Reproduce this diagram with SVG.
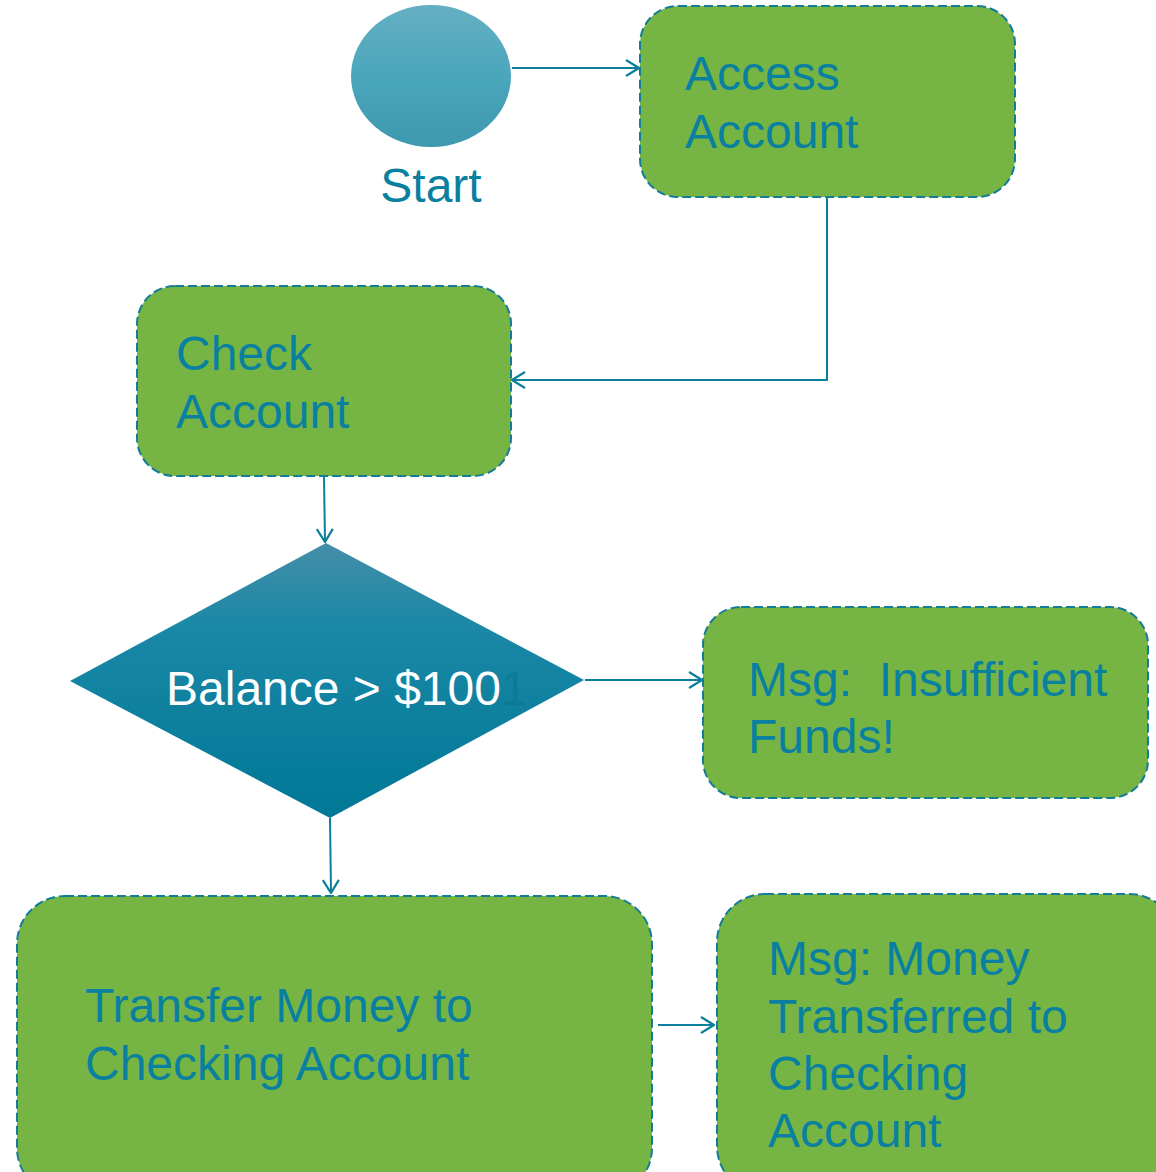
<svg xmlns="http://www.w3.org/2000/svg" width="1156" height="1172" viewBox="0 0 1156 1172">
<defs>
<linearGradient id="gStart" x1="0" y1="0" x2="0" y2="1">
<stop offset="0" stop-color="#65b0c3"/>
<stop offset="0.5" stop-color="#4aa6bc"/>
<stop offset="1" stop-color="#3e98ae"/>
</linearGradient>
<linearGradient id="gDia" x1="0" y1="0" x2="0" y2="1">
<stop offset="0" stop-color="#458ea8"/>
<stop offset="0.3" stop-color="#1a88a6"/>
<stop offset="1" stop-color="#007896"/>
</linearGradient>
<marker id="arr" viewBox="0 0 16 20" refX="15" refY="10" markerWidth="16" markerHeight="20" markerUnits="userSpaceOnUse" orient="auto">
<path d="M2,2 L15,10 L2,18" fill="none" stroke="#0b7f9b" stroke-width="2.2"/>
</marker>
<style>
.box{fill:#76b543;stroke:#137c98;stroke-width:2;stroke-dasharray:9 4}
.lbl{font-family:"Liberation Sans",Arial,sans-serif;font-size:48px;fill:#0a80a0}
.con{fill:none;stroke:#0b7f9b;stroke-width:2;marker-end:url(#arr)}
</style>
</defs>
<g id="connectors">
<path class="con" d="M512,68 L639,68"/>
<path class="con" d="M827,197 L827,380 L512,380"/>
<path class="con" d="M324,477 L325,542"/>
<path class="con" d="M585,680 L702,680"/>
<path class="con" d="M330,818 L331,893"/>
<path class="con" d="M658,1025 L714,1025"/>
</g>
<g id="start">
<ellipse cx="431" cy="76" rx="80" ry="71" fill="url(#gStart)"/>
<text class="lbl" x="431" y="202" text-anchor="middle">Start</text>
</g>
<g id="access">
<rect class="box" x="640" y="6" width="375" height="191" rx="38"/>
<text class="lbl" x="685" y="90">Access</text>
<text class="lbl" x="685" y="148">Account</text>
</g>
<g id="check">
<rect class="box" x="137" y="286" width="374" height="190" rx="38"/>
<text class="lbl" x="176" y="370">Check</text>
<text class="lbl" x="176" y="428">Account</text>
</g>
<g id="decision">
<polygon points="326,543 584,680 330,818 70,681" fill="url(#gDia)"/>
<text class="lbl" x="166" y="705" style="fill:#ffffff">Balance &gt; $100<tspan style="fill:#0b7a96">1</tspan></text>
</g>
<g id="insufficient">
<rect class="box" x="703" y="607" width="445" height="191" rx="38"/>
<text class="lbl" x="748" y="696" xml:space="preserve">Msg:  Insufficient</text>
<text class="lbl" x="748" y="753">Funds!</text>
</g>
<g id="transfer">
<rect class="box" x="17" y="896" width="635" height="300" rx="48"/>
<text class="lbl" x="85" y="1022">Transfer Money to</text>
<text class="lbl" x="85" y="1080">Checking Account</text>
</g>
<g id="transferred">
<rect class="box" x="717" y="894" width="460" height="300" rx="48"/>
<text class="lbl" x="768" y="975">Msg: Money</text>
<text class="lbl" x="768" y="1033">Transferred to</text>
<text class="lbl" x="768" y="1090">Checking</text>
<text class="lbl" x="768" y="1147">Account</text>
</g>
</svg>
